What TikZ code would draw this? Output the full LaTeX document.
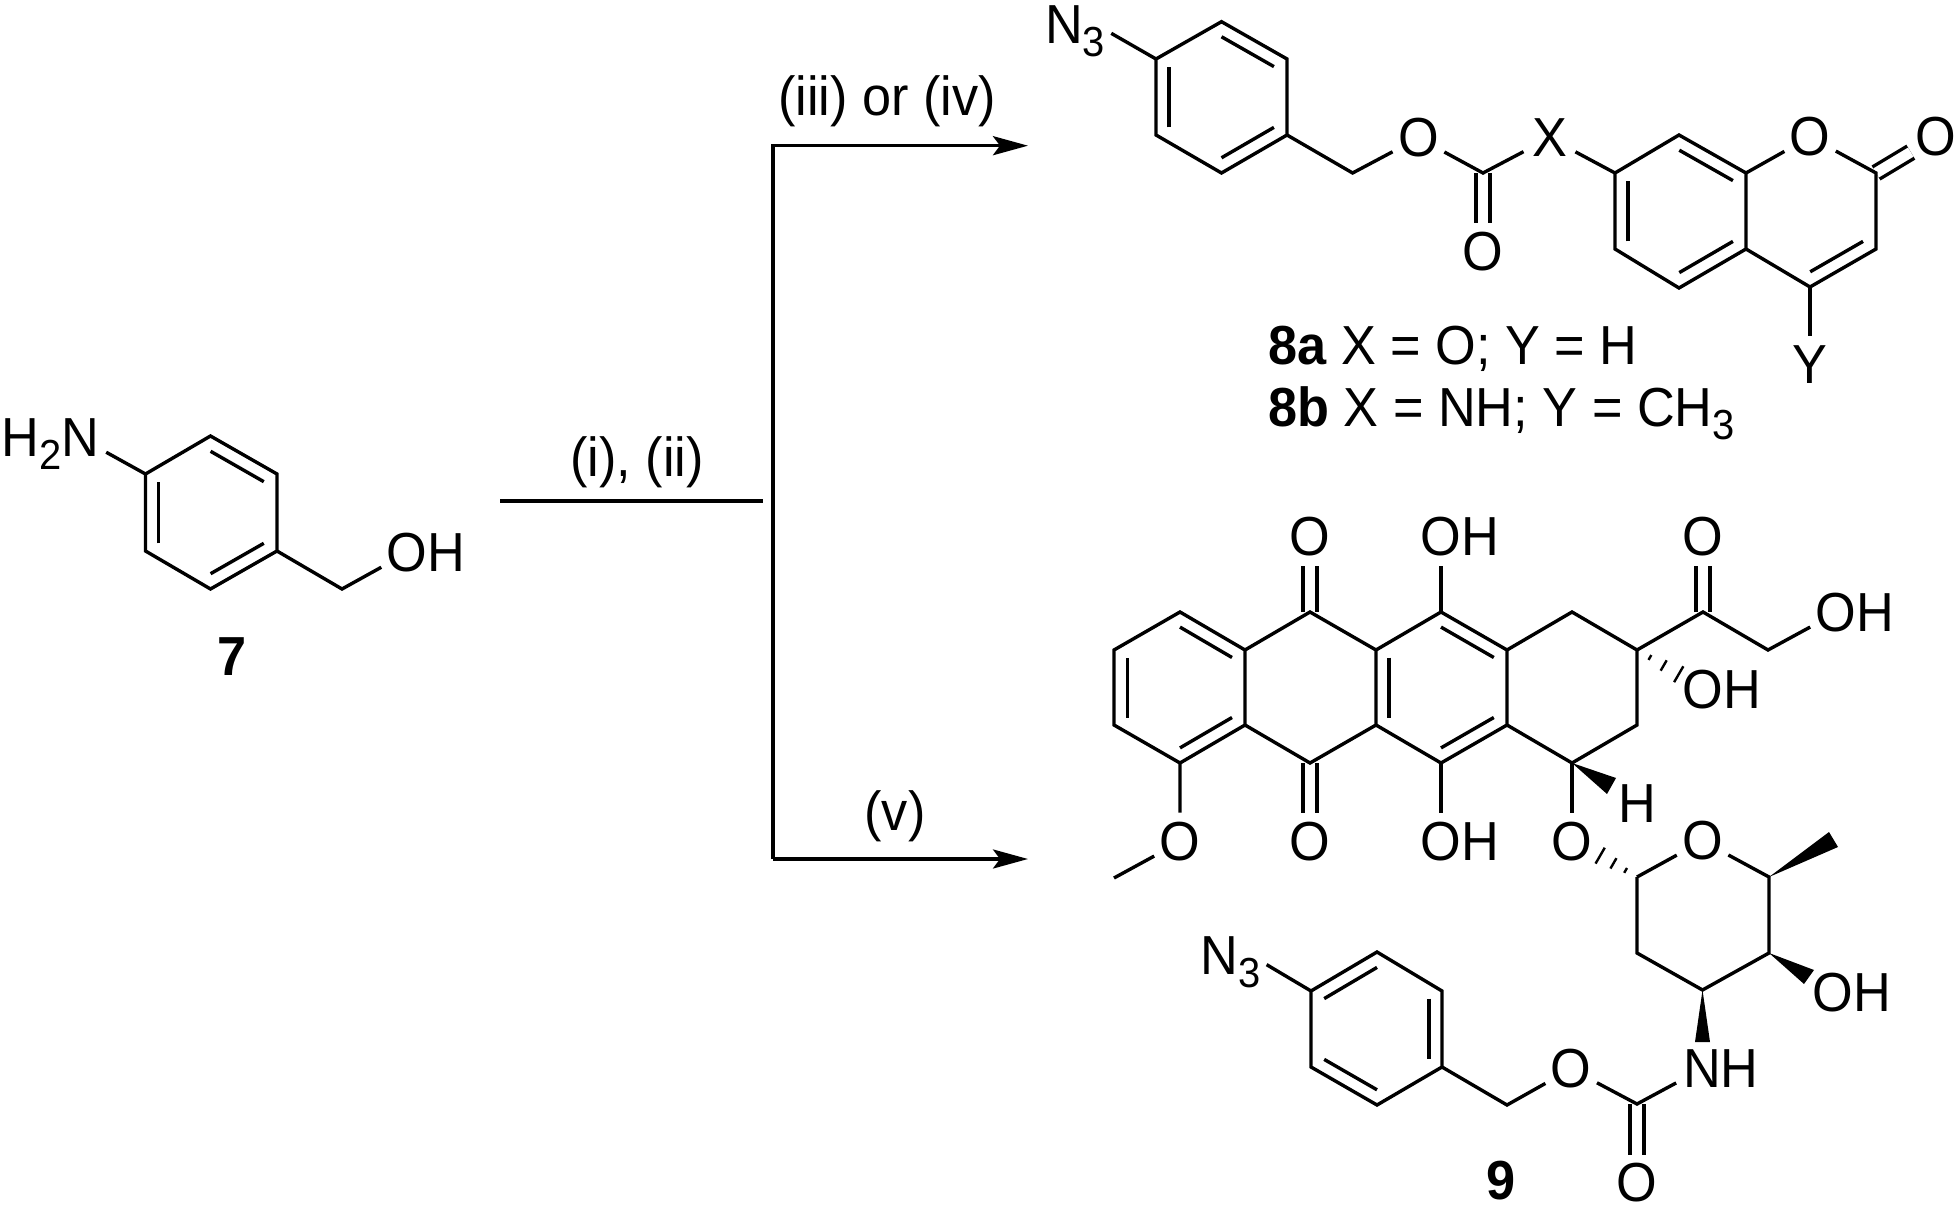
\documentclass[tikz,border=0pt]{standalone}
\usepackage{fontspec}
\setmainfont[FakeStretch=0.95]{Liberation Sans}
\usetikzlibrary{calc,arrows.meta}
\newcommand{\subnum}[1]{\raisebox{-6.5pt}{\fontsize{21}{21}\selectfont #1}}
\newcommand{\inbond}[3]{\draw[bond] ($(#1)!0.8!(#2)$) -- ($(#1)!0.8!(#3)$);}
\newcommand{\hashbond}[2]{
  \foreach \t/\h in {.3/1.4pt,.62/3pt,.97/4.6pt}
    \draw[hashline] ($(#1)!\t!(#2)!\h!90:(#2)$) -- ($(#1)!\t!(#2)!\h!-90:(#2)$);
}
\tikzset{
  bond/.style={line width=1.7pt},
  dbond/.style={line width=1.7pt,double,double distance=5.3pt},
  hashline/.style={line width=1.2pt},
  wedge/.style={fill=black},
  rxn/.style={line width=1.8pt},
  tip/.style={-{Stealth[length=17.5pt,width=9.5pt,inset=3.5pt]}},
  atom/.style={circle,inner sep=0pt,minimum size=29pt,text height=18.9pt,text depth=0pt,font=\fontsize{27.5}{30}\selectfont},
  azide/.style={atom,minimum size=47.6pt},
  edgeatom/.style={rectangle,inner sep=0pt,minimum size=0pt,text height=18.9pt,text depth=0pt,font=\fontsize{27.5}{30}\selectfont},
  tag/.style={inner sep=0pt,anchor=base west,font=\fontsize{27.5}{30}\selectfont},
  cond/.style={inner sep=0pt,anchor=base,font=\fontsize{27.5}{30}\selectfont}
}
\begin{document}
\begin{tikzpicture}[x=0.5pt,y=-0.5pt]
  \useasboundingbox (0,0) rectangle (1960,1208);

  % starting material
  \coordinate (s1) at (210.5,436);
  \coordinate (s2) at (277,474);
  \coordinate (s3) at (277,551);
  \coordinate (s4) at (210.5,589);
  \coordinate (s5) at (145.5,551);
  \coordinate (s6) at (145.5,474);
  \coordinate (sc) at (211,512.5);
  \coordinate (s7) at (342,589);
  \node[atom] (snh) at (80.5,438) {\llap{H\subnum{2}}N};
  \node[atom] (soh) at (407,553) {O\rlap{H}};
  \node[cond] (slabel) at (232,675) {\textbf{7}};
  \draw[bond] (s1) -- (s2) -- (s3) -- (s4) -- (s5) -- (s6) -- cycle;
  \inbond{sc}{s1}{s2}
  \inbond{sc}{s3}{s4}
  \inbond{sc}{s5}{s6}
  \draw[bond] (s6) -- (snh);
  \draw[bond] (s3) -- (s7) -- (soh);

  % arrows
  \coordinate (r0) at (500,501);
  \coordinate (r1) at (763,501);
  \coordinate (bt) at (772.7,145.7);
  \coordinate (bb) at (772.7,859);
  \coordinate (tt) at (1028,145.7);
  \coordinate (tb) at (1028,859);
  \draw[rxn] (r0) -- (r1);
  \draw[rxn,tip] (bb) -- (tb);
  \draw[rxn,tip] (bb) -- (bt) -- (tt);
  \node[cond] (c1) at (637,477) {(i), (ii)};
  \node[cond] (c2) at (887,116) {(iii) or (iv)};
  \node[cond] (c3) at (895,830) {(v)};

  % carbonates
  \coordinate (p1) at (1221.5,21.7);
  \coordinate (p2) at (1287,59);
  \coordinate (p3) at (1287,135);
  \coordinate (p4) at (1221.5,173);
  \coordinate (p5) at (1156,135);
  \coordinate (p6) at (1156,59);
  \coordinate (pc) at (1221.5,97);
  \coordinate (p7) at (1352.6,173);
  \coordinate (p8) at (1483,173);
  \node[azide] (pn) at (1064,25) {N\rlap{\subnum{3}}};
  \node[atom] (po1) at (1418.5,138) {O};
  \node[atom] (po2) at (1483,252) {O};
  \node[atom] (px) at (1549.5,138) {X};
  \coordinate (q1) at (1615,173);
  \coordinate (q2) at (1679,135);
  \coordinate (q3) at (1746,173);
  \coordinate (q4) at (1746,249);
  \coordinate (q5) at (1679,288);
  \coordinate (q6) at (1615,249);
  \coordinate (qc) at (1680.5,211);
  \coordinate (q7) at (1876,173);
  \coordinate (q8) at (1876,249);
  \coordinate (q9) at (1810,287);
  \coordinate (qd) at (1811,211);
  \node[atom] (qo1) at (1810,137) {O};
  \node[atom] (qo2) at (1936,137) {O};
  \node[atom] (qy) at (1810,365) {Y};
  \draw[dbond] (p8) -- (po2);
  \draw[dbond] (q7) -- (qo2);
  \draw[bond] (p1) -- (p2) -- (p3) -- (p4) -- (p5) -- (p6) -- cycle;
  \inbond{pc}{p1}{p2}
  \inbond{pc}{p3}{p4}
  \inbond{pc}{p5}{p6}
  \draw[bond] (p6) -- (pn.-10);
  \draw[bond] (p3) -- (p7) -- (po1);
  \draw[bond] (po1) -- (p8) -- (px);
  \draw[bond] (px) -- (q1);
  \draw[bond] (q1) -- (q2) -- (q3) -- (q4) -- (q5) -- (q6) -- cycle;
  \inbond{qc}{q2}{q3}
  \inbond{qc}{q4}{q5}
  \inbond{qc}{q6}{q1}
  \draw[bond] (q3) -- (qo1) -- (q7) -- (q8) -- (q9) -- (q4);
  \inbond{qd}{q8}{q9}
  \draw[bond] (q9) -- (qy);
  \node[tag] (la) at (1268,365) {\textbf{8a} X = O; Y = H};
  \node[tag] (lb) at (1268,427) {\textbf{8b} X = NH; Y = CH\subnum{3}};

  % tetracene part
  \coordinate (t1) at (1180,612);
  \coordinate (t2) at (1245,650);
  \coordinate (t3) at (1245,725);
  \coordinate (t4) at (1180,763);
  \coordinate (t5) at (1114,725);
  \coordinate (t6) at (1114,650);
  \coordinate (tac) at (1180,687.5);
  \coordinate (t7) at (1310,612);
  \coordinate (t8) at (1310,763);
  \coordinate (t9) at (1376,650);
  \coordinate (t10) at (1376,725);
  \coordinate (t11) at (1441,612);
  \coordinate (t12) at (1507,650);
  \coordinate (t13) at (1507,725);
  \coordinate (t14) at (1441,763);
  \coordinate (tcc) at (1441,687.5);
  \coordinate (t15) at (1572,612);
  \coordinate (t16) at (1637,650);
  \coordinate (t17) at (1637,725);
  \coordinate (t18) at (1572,763);
  \coordinate (t19) at (1703,612);
  \coordinate (t20) at (1768,650);
  \coordinate (tme) at (1114,878);
  \coordinate (th1) at (1680,675);
  \coordinate (tw1) at (1616,778);
  \coordinate (tw2) at (1607,794);
  \node[atom] (to1) at (1310,537) {O};
  \node[atom] (to2) at (1441,537) {O\rlap{H}};
  \node[atom] (to3) at (1703,537) {O};
  \node[atom] (to4) at (1836,613) {O\rlap{H}};
  \node[atom] (to5) at (1703,690) {O\rlap{H}};
  \node[atom] (to6) at (1180,842) {O};
  \node[atom] (to7) at (1310,842) {O};
  \node[atom] (to8) at (1441,842) {O\rlap{H}};
  \node[atom] (to9) at (1572,842) {O};
  \node[atom] (th) at (1637,804) {H};
  \draw[dbond] (t7) -- (to1);
  \draw[dbond] (t8) -- (to7);
  \draw[dbond] (t19) -- (to3);
  \draw[bond] (t1) -- (t2) -- (t3) -- (t4) -- (t5) -- (t6) -- cycle;
  \inbond{tac}{t1}{t2}
  \inbond{tac}{t3}{t4}
  \inbond{tac}{t5}{t6}
  \draw[bond] (t2) -- (t7) -- (t9) -- (t10) -- (t8) -- (t3);
  \draw[bond] (t9) -- (t11) -- (t12) -- (t13) -- (t14) -- (t10);
  \inbond{tcc}{t9}{t10}
  \inbond{tcc}{t11}{t12}
  \inbond{tcc}{t13}{t14}
  \draw[bond] (t12) -- (t15) -- (t16) -- (t17) -- (t18) -- (t13);
  \draw[bond] (t16) -- (t19) -- (t20) -- (to4);
  \draw[bond] (t11) -- (to2);
  \draw[bond] (t14) -- (to8);
  \draw[bond] (t4) -- (to6) -- (tme);
  \draw[bond] (t18) -- (to9);
  \hashbond{t16}{th1}
  \fill[wedge] (t18) -- (tw1) -- (tw2) -- cycle;

  % sugar
  \coordinate (u1) at (1637,877);
  \coordinate (u2) at (1637,953);
  \coordinate (u3) at (1702.5,990);
  \coordinate (u4) at (1769,953);
  \coordinate (u5) at (1769,877);
  \coordinate (uh) at (1599,855);
  \coordinate (uw1) at (1829,832);
  \coordinate (uw2) at (1838,847);
  \coordinate (uw3) at (1814,970);
  \coordinate (uw4) at (1804,984);
  \coordinate (uw5) at (1695,1042);
  \coordinate (uw6) at (1710,1042);
  \node[atom] (uo1) at (1702.5,841) {O};
  \node[atom] (uo2) at (1833,993) {O\rlap{H}};
  \node[atom] (un) at (1702,1069) {N\rlap{H}};
  \draw[bond] (u1) -- (uo1) -- (u5) -- (u4) -- (u3) -- (u2) -- (u1);
  \hashbond{u1}{uh}
  \fill[wedge] (u5) -- (uw1) -- (uw2) -- cycle;
  \fill[wedge] (u4) -- (uw3) -- (uw4) -- cycle;
  \fill[wedge] (u3) -- (uw5) -- (uw6) -- cycle;

  % carbamate
  \coordinate (v1) at (1377,952);
  \coordinate (v2) at (1442,991);
  \coordinate (v3) at (1442,1067);
  \coordinate (v4) at (1377,1105);
  \coordinate (v5) at (1311,1067);
  \coordinate (v6) at (1311,991);
  \coordinate (vc) at (1377,1029);
  \coordinate (v7) at (1507,1105);
  \coordinate (v8) at (1637,1104);
  \node[azide] (vn) at (1219.5,955.5) {N\rlap{\subnum{3}}};
  \node[atom] (vo1) at (1571,1069) {O};
  \node[edgeatom] (vo2) at (1637,1183) {O};
  \node[cond] (vlabel) at (1501,1199) {\textbf{9}};
  \draw[dbond,shorten >=4.5pt] (v8) -- (vo2.north);
  \draw[bond] (v1) -- (v2) -- (v3) -- (v4) -- (v5) -- (v6) -- cycle;
  \inbond{vc}{v2}{v3}
  \inbond{vc}{v4}{v5}
  \inbond{vc}{v6}{v1}
  \draw[bond] (v6) -- (vn.-11);
  \draw[bond] (v3) -- (v7) -- (vo1) -- (v8) -- (un);
\end{tikzpicture}
\end{document}
